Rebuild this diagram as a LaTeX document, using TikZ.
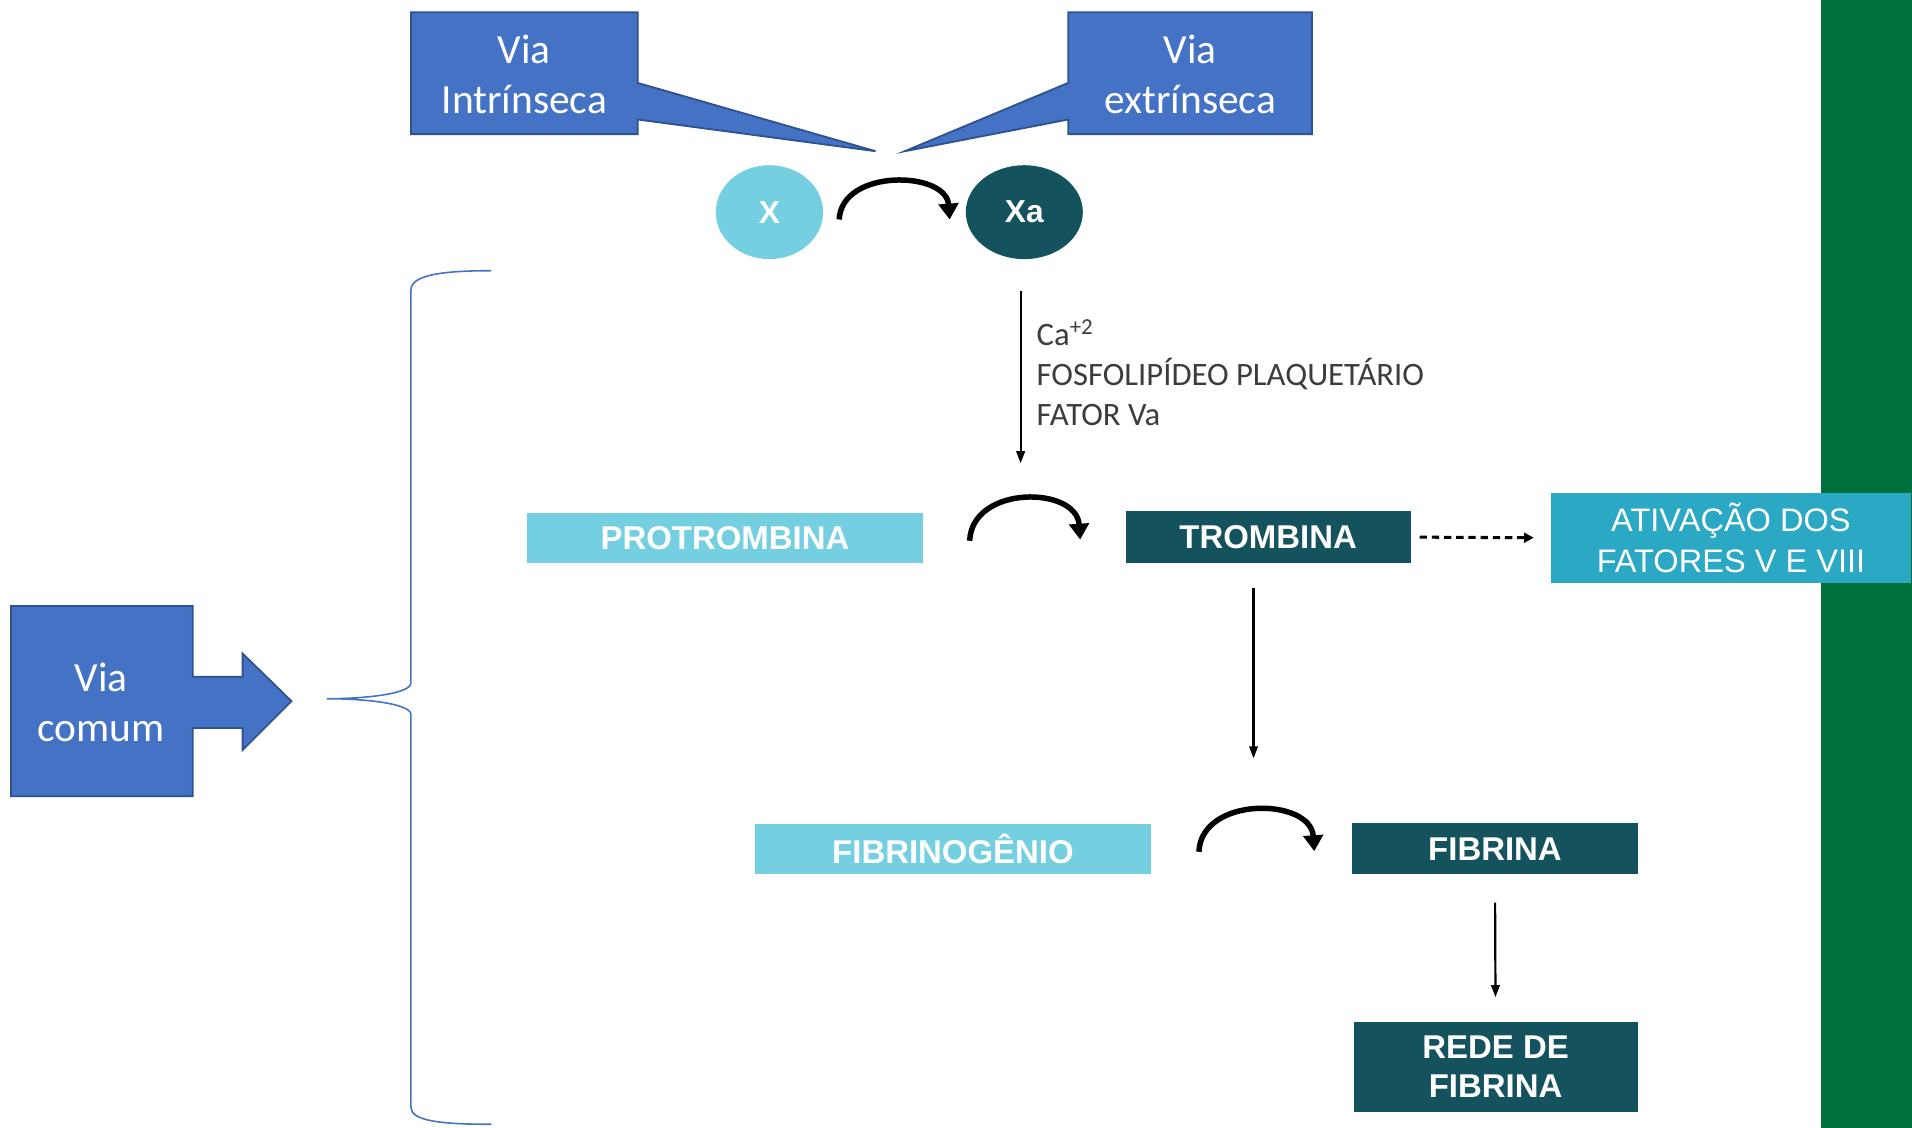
\documentclass[tikz,border=0pt]{standalone}
\usepackage{fontspec}
\setmainfont{Liberation Sans}
\newfontfamily\calib{Carlito}
\newfontfamily\arialf{Liberation Sans}
\usetikzlibrary{arrows.meta,shapes.geometric}

\definecolor{calloutblue}{HTML}{4472C4}
\definecolor{calloutedge}{HTML}{2F528F}
\definecolor{lightcyan}{HTML}{74CFE1}
\definecolor{darkteal}{HTML}{14535E}
\definecolor{midcyan}{HTML}{2AA8C4}
\definecolor{sidegreen}{HTML}{00703C}
\definecolor{notegray}{HTML}{3C3C3C}

\tikzset{
  callouttext/.style={text=white, font=\calib\fontsize{34}{41.5}\selectfont, align=center, inner sep=0pt},
  calloutshape/.style={fill=calloutblue, draw=calloutedge, line width=1.5pt, line join=miter},
  stagebox/.style={text=white, font=\arialf\bfseries\fontsize{27}{32}\selectfont, inner sep=0pt, align=center},
  lightbox/.style={stagebox, fill=lightcyan, minimum width=325pt, minimum height=41pt},
  darkbox/.style={stagebox, fill=darkteal},
  factor/.style={ellipse, inner sep=0pt, text=white, font=\arialf\bfseries\fontsize{26}{30}\selectfont},
  turnarrow/.style={line width=4.5pt, -{Triangle[length=13pt,width=16pt]}},
  thinarrow/.style={line width=1.8pt, -{Triangle[length=10pt,width=7pt]}},
  note/.style={anchor=base west, inner sep=0pt, text=notegray, font=\calib\fontsize{26.8}{33}\selectfont},
  bracecurve/.style={draw=calloutblue, line width=1.3pt}
}

\begin{document}
\begin{tikzpicture}[x=1pt,y=1pt]
\useasboundingbox (0,0) rectangle (1568,-925);

% side bar
\fill[sidegreen] (1493,0) rectangle (1568,-925);

% callout outlines
\path[calloutshape] (337,-10) -- (523,-10) -- (523,-68) -- (718,-124) -- (523,-98) -- (523,-110) -- (337,-110) -- cycle;
\path[calloutshape] (876,-10) -- (1076,-10) -- (1076,-110) -- (876,-110) -- (876,-98) -- (742,-124) -- (876,-68) -- cycle;
\path[calloutshape] (9,-497) -- (158,-497) -- (158,-555) -- (199,-555) -- (199,-536) -- (239,-575) -- (199,-615) -- (199,-597) -- (158,-597) -- (158,-653) -- (9,-653) -- cycle;

\node[callouttext] (intr) at (430,-61) {Via\\Intrínseca};
\node[callouttext] (extr) at (976,-61) {Via\\extrínseca};
\node[callouttext] (comum) at (83,-576) {Via\\comum};

% brace grouping the common pathway
\draw[bracecurve] (403,-222) .. controls (360,-222) and (337,-226) .. (337,-238)
  -- (337,-560) .. controls (337,-569) and (300,-573) .. (268,-573)
  .. controls (300,-573) and (337,-577) .. (337,-586)
  -- (337,-908) .. controls (337,-919) and (360,-922) .. (403,-922);

% factor X activation
\node[factor, fill=lightcyan, minimum width=88pt, minimum height=77pt] (X) at (631,-174) {X};
\node[factor, fill=darkteal, minimum width=96pt, minimum height=77pt] (Xa) at (840,-174) {Xa};
\draw[turnarrow] ([xshift=13pt,yshift=-6pt]X.east) .. controls +(2,42) and +(-3,40) .. ([xshift=-13pt,yshift=-6pt]Xa.west);

% cofactors
\coordinate (catip) at (837,-380);
\draw[thinarrow] ([xshift=-3pt,yshift=-26pt]Xa.south) -- (catip);
\node[note] (ca) at (850,-283) {Ca\textsuperscript{+2}};
\node[note] (fosfo) at (850,-316) {FOSFOLIPÍDEO PLAQUETÁRIO};
\node[note] (fatorva) at (850,-349) {FATOR Va};

% prothrombin to thrombin
\node[lightbox] (prot) at (594.5,-441.5) {PROTROMBINA};
\node[darkbox, minimum width=234pt, minimum height=43pt] (trom) at (1040,-440.5) {TROMBINA};
\draw[turnarrow] ([xshift=38pt,yshift=-2pt]prot.east) .. controls +(2,46) and +(-3,44) .. ([xshift=-37pt,yshift=-2pt]trom.west);

\node[stagebox, font=\arialf\fontsize{26.7}{33}\selectfont, fill=midcyan, minimum width=295pt, minimum height=74pt] (ativ) at (1419.5,-441) {ATIVAÇÃO DOS\\FATORES V E VIII};
\draw[line width=2.5pt, dash pattern=on 6pt off 4pt, -{Triangle[length=8pt,width=8pt]}] ([xshift=7pt]trom.east) -- ([xshift=-14pt]ativ.west);

\coordinate (thtip) at (1028,-622);
\draw[thinarrow] ([xshift=-12pt,yshift=-20pt]trom.south) -- (thtip);

% fibrinogen to fibrin
\node[lightbox] (fibg) at (781.5,-696.5) {FIBRINOGÊNIO};
\node[darkbox, minimum width=234pt, minimum height=42pt] (fiba) at (1226,-696) {FIBRINA};
\draw[turnarrow] ([xshift=39pt,yshift=-2pt]fibg.east) .. controls +(2,46) and +(-3,44) .. ([xshift=-31pt,yshift=-2pt]fiba.west);

\node[darkbox, minimum width=233pt, minimum height=74pt] (rede) at (1226.5,-875) {REDE DE\\FIBRINA};
\draw[thinarrow, shorten <=23pt, shorten >=20pt] (fiba.south) -- (rede.north);
\end{tikzpicture}
\end{document}
